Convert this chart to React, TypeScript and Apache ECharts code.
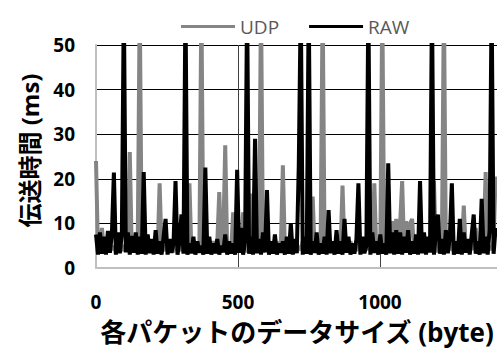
import React, { useEffect, useRef } from "react";
import * as echarts from "echarts";

const STEP = 7; // bytes between samples
const seriesNames = ["UDP", "RAW"];
const yTicks = [0, 10, 20, 30, 40, 50];
const xTicks = [0, 500, 1000];

const udp = [
  24, 4, 5, 9, 4, 5.5, 3.5, 6, 4, 5,
  3.5, 6, 4, 5, 3.8, 5.5, 4, 26, 3.5, 5,
  4, 6, 60, 3.8, 5, 4, 6, 3.5, 5.5, 4,
  6, 3.5, 19, 4, 5, 3.8, 6, 4, 5.5, 3.5,
  6, 4, 5, 3.8, 6.5, 4, 5, 19, 3.5, 6,
  4, 5.5, 3.8, 60, 4, 6, 3.5, 5, 4, 6,
  3.8, 5.5, 17, 4, 6, 27.5, 3.5, 5.5, 4, 12.5,
  3.8, 6, 4, 5, 12.5, 3.5, 6, 4, 16.7, 3.8,
  5.5, 4, 6, 60, 3.5, 5, 4, 6, 3.8, 5.5,
  4, 6, 3.5, 5, 23, 4, 6, 3.8, 5.5, 4,
  6, 3.5, 5, 4, 6, 3.8, 5.5, 4, 6, 16,
  3.5, 5, 4, 6, 60, 3.8, 5.5, 4, 6, 3.5,
  5, 4, 6, 3.8, 18.5, 4, 5.5, 3.5, 6, 4,
  5, 3.8, 6, 4, 5.5, 3.5, 6, 4, 5, 3.8,
  19, 4, 5.5, 3.5, 60, 4, 6, 3.8, 5, 10.5,
  4, 11, 3.5, 10, 19.5, 4, 10.5, 3.8, 10, 11,
  4, 6, 3.5, 5.5, 4, 6, 3.8, 5, 4, 6,
  19.5, 3.5, 5.5, 4, 6, 60, 3.8, 5, 4, 6,
  3.5, 5.5, 4, 8, 3.8, 14, 4, 5.5, 3.5, 6,
  4, 9, 3.8, 5.5, 4, 6, 21.5, 3.5, 5, 4,
  6, 20.5,
];

const raw = [
  7.5, 3, 8, 3.2, 7, 3, 8.3, 3.4, 7.8, 21.4,
  3, 8, 3.3, 7.5, 60, 3.5, 8, 3, 7.2, 3.4,
  8, 3, 7, 3.2, 21.5, 3, 7.5, 3.3, 6.5, 3,
  8.5, 3.2, 6, 3, 7, 11, 3, 6.5, 3.4, 5.5,
  19.5, 3, 6, 12, 3.2, 60, 3, 5.5, 3.3, 7,
  3, 6, 3.4, 5, 3, 22.5, 3.2, 7, 3, 5.5,
  3.3, 6.5, 3, 5, 3.5, 7.5, 3, 6, 3.2, 5.5,
  3, 22, 3.4, 9, 3, 6, 60, 3.2, 7, 3,
  29, 3.3, 6.5, 3, 8, 3.5, 17.5, 3, 6, 3.2,
  7.5, 3, 5.5, 3.4, 6, 3, 7, 3.2, 10, 3,
  6.5, 3.3, 23, 60, 3, 7, 3.2, 60, 3, 6,
  3.4, 8, 3, 5.5, 3.2, 7, 3, 13, 3.3, 6,
  3, 8.5, 3.2, 6, 3, 11, 3.4, 7, 3, 5.5,
  3.2, 6.5, 19, 3, 7, 3.3, 5, 60, 3, 8,
  3.4, 6, 3, 7.5, 3.2, 5.5, 3, 23.5, 3.3, 8,
  3, 8.5, 3.2, 8, 3, 7, 3.4, 8.5, 3, 6,
  3.2, 7.5, 3, 19.5, 3.3, 8, 3, 7, 3.5, 60,
  3, 8, 12, 3.2, 6.5, 3, 8.5, 3.3, 7, 19,
  3, 6, 3.2, 11, 3, 8, 3.4, 6.5, 3, 7.5,
  12, 3.2, 6, 3, 15.5, 3.3, 7, 3, 8.5, 60,
  3.2, 9,
];

const FONT = "'Open Sans', 'Noto Sans CJK JP', sans-serif";

export default function App() {
  const ref = useRef<HTMLDivElement>(null);
  useEffect(() => {
    if (!ref.current) return;
    const chart = echarts.init(ref.current, null, { renderer: "svg" });
    const toPairs = (arr: number[]) => arr.map((v, i) => [i * STEP, v]);
    chart.setOption({
      animation: false,
      backgroundColor: "#ffffff",
      legend: {
        left: 176,
        top: 12,
        icon: "rect",
        itemWidth: 54,
        itemHeight: 3,
        itemGap: 30,
        textStyle: { color: "#595959", fontSize: 19, fontFamily: FONT },
        data: seriesNames,
      },
      grid: { left: 96, right: 18, top: 45, bottom: 86 },
      xAxis: {
        type: "value",
        min: 0,
        max: 1500,
        interval: 500,
        name: "各パケットのデータサイズ (byte)",
        nameLocation: "middle",
        nameGap: 51,
        nameTextStyle: {
          fontSize: 26,
          fontWeight: "bold",
          color: "#000",
          fontFamily: FONT,
          padding: [0, 24, 0, 0],
        },
        axisLine: { show: true, lineStyle: { color: "#bfbfbf", width: 2 } },
        axisTick: { show: false },
        axisLabel: {
          margin: 24,
          fontSize: 19,
          fontWeight: "bold",
          color: "#000",
          fontFamily: FONT,
          formatter: (v: number) => (xTicks.includes(v) ? String(v) : ""),
        },
        splitLine: { show: true, lineStyle: { color: "#404040", width: 1 } },
      },
      yAxis: {
        type: "value",
        min: 0,
        max: 50,
        interval: 10,
        name: "伝送時間 (ms)",
        nameLocation: "middle",
        nameGap: 55,
        nameTextStyle: {
          fontSize: 24,
          fontWeight: "bold",
          color: "#000",
          fontFamily: FONT,
          padding: [0, 0, 0, 12],
        },
        axisLine: { show: true, lineStyle: { color: "#bfbfbf", width: 2 } },
        axisTick: { show: false },
        axisLabel: {
          margin: 21,
          fontSize: 19,
          fontWeight: "bold",
          color: "#000",
          fontFamily: FONT,
          formatter: (v: number) => (yTicks.includes(v) ? String(v) : ""),
        },
        splitLine: { show: true, lineStyle: { color: "#000", width: 1 } },
      },
      series: [
        {
          name: seriesNames[0],
          type: "line",
          data: toPairs(udp),
          symbol: "none",
          lineStyle: { color: "#858585", width: 4, join: "bevel" },
          itemStyle: { color: "#858585" },
          clip: true,
        },
        {
          name: seriesNames[1],
          type: "line",
          data: toPairs(raw),
          symbol: "none",
          lineStyle: { color: "#000000", width: 4, join: "bevel" },
          itemStyle: { color: "#000000" },
          clip: true,
        },
      ],
    });
    return () => chart.dispose();
  }, []);
  return (
    <div
      style={{
        position: "fixed",
        left: 0,
        top: 0,
        width: 497,
        height: 354,
        overflow: "hidden",
        background: "#fff",
      }}
    >
      <div ref={ref} style={{ width: 540, height: 354 }} />
    </div>
  );
}
